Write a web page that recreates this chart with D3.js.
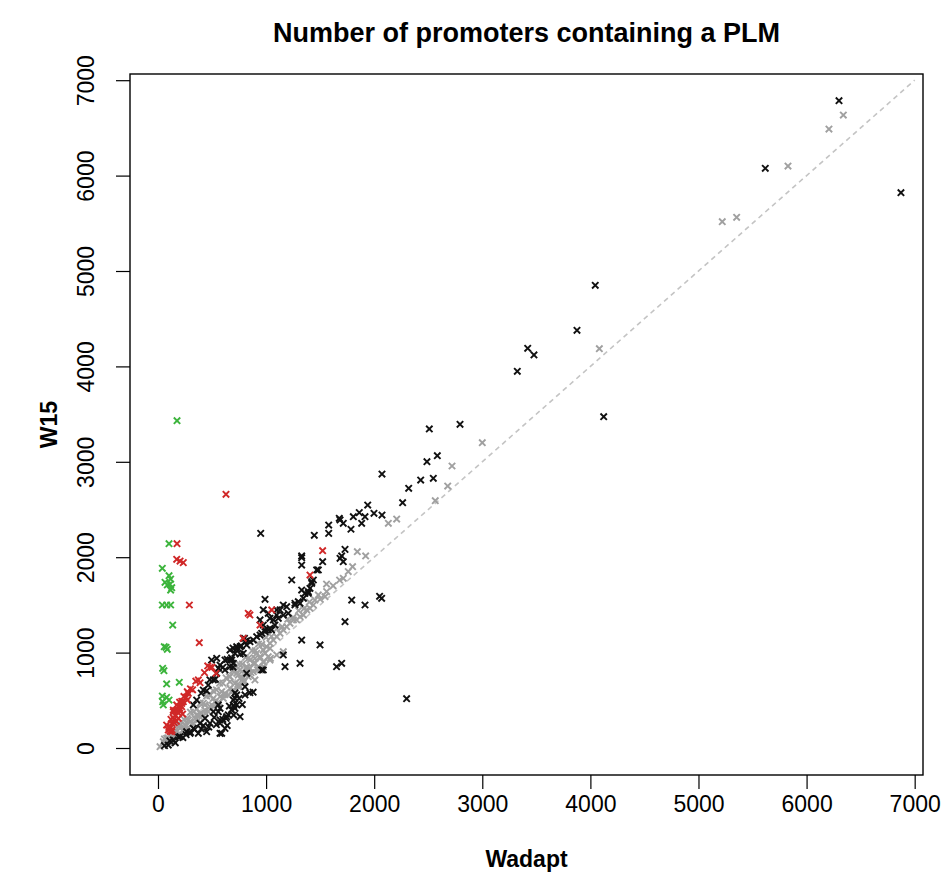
<!DOCTYPE html>
<meta charset="utf-8">
<style type="text/css">
  body { margin: 0; background: #fff; }
  svg { display: block; }
  .title, .axis-label {
    font-family: "Liberation Sans", Arial, sans-serif;
    font-weight: bold;
    fill: #000;
  }
  .axis text {
    font-family: "Liberation Sans", Arial, sans-serif;
    font-size: 23px;
    fill: #000;
  }
  .axis line, .axis path { stroke: #000; stroke-width: 1.2; }
  .diag { fill: none; stroke: #c4c4c4; stroke-width: 1.6; stroke-dasharray: 5,4; }
</style>
<body>
<svg width="946" height="896"></svg>
<script src="https://d3js.org/d3.v7.min.js"></script>
<script>

// Wadapt (x) vs W15 (y) counts
var grayX = [6340,6207,5828,5220,5353,4083,3000,2720,2680,2565,2131,2208,1844,1921,1559,1714,1483,1545,1452,
  666,728,759,820,851,882,913,944,974,1005,1036,1067,1098,1129,1159,1190,1221,1252,1283,1314,1345,1376,1406,1437,
  789,851,944,974,1036,1098,1159,897,759,697,
  19,49,80,111,157,204,250,296,342,389,435,481,527,574,620,666,712,759,805,851,897,944,990,1036,
  127,173,234,280,327,373,419,465,512,558,604,650,697,743,789,835,882,928,974,1020,
  142,204,280,358,435,512,589,666,743,820,897,974,
  1500,1560,1620,1680,1760,1800,
  60,90,120,150,180,210,240,270,300,330,360,390,420,450,480,510,540,570,600,630,660,690,720,750,780,810,840,870,900,930,960,1000,1050,1100,1150,1200,1250,1300,1350,1400,
  100,150,200,260,320,380,440,500,560,620,680,740,800,860,920,980,1040];
var grayY = [6635,6488,6100,5517,5563,4186,3200,2956,2746,2592,2355,2400,2058,2013,1719,1779,1604,1586,1551,
  747,783,818,852,922,888,993,957,1027,1062,1098,1132,1167,1202,1237,1271,1307,1342,1342,1376,1394,1447,1464,1499,
  731,765,818,852,922,975,1009,713,643,608,
  14,66,101,136,171,206,241,276,311,364,398,433,485,538,573,625,678,731,783,835,888,940,993,1045,
  84,136,189,217,259,294,346,381,433,468,521,556,608,643,695,747,800,852,905,957,
  154,241,294,346,451,521,590,695,765,835,940,1027,
  1560,1640,1700,1760,1850,1900,
  95,105,170,180,245,240,300,310,375,380,410,470,470,545,550,600,610,680,680,735,750,810,815,880,880,950,945,1020,1020,1090,1085,1160,1170,1250,1270,1350,1370,1440,1460,1530,
  60,135,150,230,255,335,365,450,480,560,585,670,700,790,820,900,940];

var blackX = [6300,5618,6873,4045,3876,3420,3478,3324,4123,2510,2794,2072,2488,2584,2430,2547,2319,2263,1940,1862,1807,1915,1998,2072,1677,1714,1884,1785,1730,1699,2300,
  950,1446,1579,1579,1684,1714,1329,1329,1523,1483,1422,1237,1329,1360,1391,1792,1915,2050,2069,990,1159,1267,1298,1205,974,1020,1036,1098,1129,1730,990,1020,1050,944,789,1329,1499,1159,1314,1175,1652,1699,959,805,694,694,712,1684,
  666,728,789,820,851,913,959,990,1036,1082,1113,1159,1267,1314,1345,1391,1422,1437,1468,1406,1190,1098,1067,944,974,882,682,666,
  358,419,465,512,543,620,666,712,759,805,574,327,620,697,543,496,
  142,204,265,327,389,435,481,512,558,574,620,589,650,697,728,759,450,373,558,712,820,296,95,
  574,635,574,574,712,728,805,974,1329,
  60,110,160,190,230,260,300,340,400,420,470,520,540,600,630,680,660,700,750,780,850,880,700,640,
  400,450,480,530,560,600,640,680,730,770,800,760,820];
var blackY = [6785,6077,5821,4850,4378,4190,4120,3949,3473,3344,3393,2872,3001,3064,2809,2827,2722,2571,2547,2467,2425,2425,2460,2442,2408,2355,2355,2293,2082,2013,517,
  2250,2230,2337,2250,1988,1953,2013,1918,1953,1866,1743,1761,1656,1622,1639,1551,1499,1590,1569,1559,1499,1517,1534,1412,1447,1412,1360,1394,1447,1324,1237,1237,1237,1184,1150,1132,1080,975,888,852,852,888,818,643,1048,849,577,2390,
  1027,1062,993,1080,1114,1167,1202,1219,1255,1289,1360,1394,1499,1517,1569,1622,1726,1761,1866,1674,1481,1447,1342,1342,1289,1132,922,852,
  503,608,660,713,783,818,922,993,1062,1114,870,451,922,888,940,922,
  84,119,171,206,259,311,259,381,451,294,206,154,346,503,556,328,171,154,381,416,783,154,31,
  416,328,259,154,521,451,556,818,1995,
  25,75,55,115,110,140,165,195,200,235,220,320,245,300,310,400,440,445,520,455,580,585,345,235,
  575,600,715,720,835,845,930,945,1040,1070,1150,985,1125];

var redX = [629,176,173,204,234,290,382,271,373,389,481,537,234,219,204,228,173,142,188,127,111,127,80,95,271,835,850,1052,944,789,1523,1406,150,160,200,280,219,188,142,111,
  100,120,140,160,180,200,220,130,150,170,110,190,240,260,300,320,350,430,460,500];
var redY = [2659,2142,1978,1960,1943,1499,1104,590,713,684,846,783,485,433,398,356,451,381,311,259,206,171,241,189,503,1412,1395,1447,1289,1150,2068,1813,300,340,420,573,468,433,398,223,
  215,300,320,390,400,480,490,190,265,280,175,365,540,530,620,610,700,790,860,845];

var greenX = [176,102,40,102,117,65,111,127,86,117,40,80,117,136,74,58,86,43,55,80,197,40,80,102,43,49];
var greenY = [3431,2142,1884,1806,1771,1737,1716,1680,1709,1656,1499,1499,1499,1289,1056,1062,1035,835,810,671,689,545,531,503,485,451];

var tickVals = [0,1000,2000,3000,4000,5000,6000,7000];
var diagEnds = [0, 7000];

var plotLeft = 130, plotRight = 923, plotTop = 74, plotBottom = 775;

var x = d3.scaleLinear().domain([-259, 7077]).range([plotLeft, plotRight]);
var y = d3.scaleLinear().domain([-283, 7065]).range([plotBottom, plotTop]);

var svg = d3.select("svg");

/* reference line y = x */
svg.append("line")
  .attr("class", "diag")
  .attr("x1", x(diagEnds[0])).attr("y1", y(diagEnds[0]))
  .attr("x2", x(diagEnds[1])).attr("y2", y(diagEnds[1]));

/* points, pch 4 style crosses */
var cross = "M-3.2,-3.2L3.2,3.2M-3.2,3.2L3.2,-3.2";
function drawSeries(xs, ys, color) {
  svg.append("g")
    .selectAll("path")
    .data(xs)
    .enter().append("path")
      .attr("d", cross)
      .attr("transform", function(d, i) { return "translate(" + x(d) + "," + y(ys[i]) + ")"; })
      .attr("fill", "none")
      .attr("stroke", color)
      .attr("stroke-width", 1.9);
}
drawSeries(grayX, grayY, "#a0a0a0");
drawSeries(blackX, blackY, "#111");
drawSeries(redX, redY, "#d02828");
drawSeries(greenX, greenY, "#3cb43c");

/* box */
svg.append("rect")
  .attr("x", plotLeft).attr("y", plotTop)
  .attr("width", plotRight - plotLeft).attr("height", plotBottom - plotTop)
  .attr("fill", "none").attr("stroke", "#000").attr("stroke-width", 1.4);

/* axes */
svg.append("g")
  .attr("class", "axis")
  .attr("transform", "translate(0," + plotBottom + ")")
  .call(d3.axisBottom(x).tickValues(tickVals).tickSize(14).tickSizeOuter(0).tickFormat(d3.format("d")))
  .call(function(g) { g.select(".domain").remove(); })
  .selectAll("text")
    .attr("y", 37).attr("dy", 0);

svg.append("g")
  .attr("class", "axis")
  .attr("transform", "translate(" + plotLeft + ",0)")
  .call(d3.axisLeft(y).tickValues(tickVals).tickSize(14).tickSizeOuter(0).tickFormat(d3.format("d")))
  .call(function(g) { g.select(".domain").remove(); })
  .selectAll("text")
    .attr("transform", "rotate(-90)")
    .attr("x", 0).attr("y", -36).attr("dy", 0)
    .style("text-anchor", "middle");

/* titles */
svg.append("text")
  .attr("class", "title")
  .attr("x", (plotLeft + plotRight) / 2).attr("y", 42)
  .attr("text-anchor", "middle")
  .style("font-size", "27px")
  .text("Number of promoters containing a PLM");

svg.append("text")
  .attr("class", "axis-label")
  .attr("x", (plotLeft + plotRight) / 2).attr("y", 867)
  .attr("text-anchor", "middle")
  .style("font-size", "23px")
  .text("Wadapt");

svg.append("text")
  .attr("class", "axis-label")
  .attr("transform", "translate(57," + (plotTop + plotBottom) / 2 + ") rotate(-90)")
  .attr("text-anchor", "middle")
  .style("font-size", "23px")
  .text("W15");

</script>
</body>
